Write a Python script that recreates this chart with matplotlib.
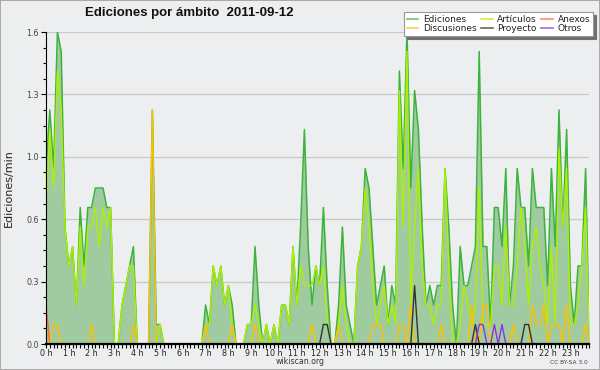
import matplotlib
matplotlib.use('Agg')
import matplotlib.pyplot as plt
from matplotlib.lines import Line2D
from matplotlib.ticker import FixedLocator, MultipleLocator, FormatStrFormatter
import numpy as np

# edits per minute, one value every 10 minutes (144 per day)
ediciones = [0.9, 1.2, 0.9, 1.6, 1.5, 0.6, 0.4, 0.5, 0.2, 0.7, 0.4, 0.7,
             0.7, 0.8, 0.8, 0.8, 0.7, 0.7, 0, 0, 0.2, 0.3, 0.4, 0.5,
             0, 0, 0, 0, 1.2, 0.1, 0.1, 0, 0, 0, 0, 0,
             0, 0, 0, 0, 0, 0, 0.2, 0.1, 0.4, 0.3, 0.4, 0.2,
             0.3, 0.2, 0, 0, 0, 0.1, 0.1, 0.5, 0.2, 0, 0.1, 0,
             0.1, 0, 0.2, 0.2, 0.1, 0.5, 0.2, 0.6, 1.1, 0.5, 0.2, 0.4,
             0.3, 0.7, 0.3, 0, 0, 0.2, 0.6, 0.2, 0.1, 0, 0.4, 0.5,
             0.9, 0.8, 0.5, 0.2, 0.3, 0.4, 0.1, 0.3, 0.2, 1.4, 0.9, 1.6,
             0.8, 1.3, 1.1, 0.6, 0.2, 0.3, 0.2, 0.3, 0.3, 0.9, 0.6, 0.2,
             0, 0.5, 0.3, 0.3, 0.4, 0.5, 1.5, 0.5, 0.5, 0.1, 0.7, 0.7,
             0.5, 0.9, 0.2, 0.4, 0.9, 0.7, 0.7, 0.4, 0.9, 0.7, 0.7, 0.7,
             0.3, 0.9, 0.5, 1.2, 0.6, 1.1, 0.3, 0.1, 0.4, 0.4, 0.9, 0]

articulos = [0.7, 1.1, 0.8, 1.4, 1.2, 0.6, 0.4, 0.5, 0.2, 0.6, 0.3, 0.6,
             0.6, 0.7, 0.5, 0.7, 0.6, 0.7, 0, 0, 0.2, 0.3, 0.4, 0.4,
             0, 0, 0, 0, 0, 0, 0.1, 0, 0, 0, 0, 0,
             0, 0, 0, 0, 0, 0, 0.1, 0.1, 0.4, 0.3, 0.4, 0.2,
             0.3, 0.1, 0, 0, 0, 0.1, 0.1, 0.2, 0.1, 0, 0.1, 0,
             0.1, 0, 0.2, 0.2, 0.1, 0.5, 0.2, 0.4, 0.3, 0.3, 0.3, 0.4,
             0.3, 0.4, 0.1, 0, 0, 0.1, 0.3, 0.1, 0, 0, 0.4, 0.5,
             0.8, 0.6, 0.3, 0.1, 0.2, 0.3, 0.1, 0.2, 0.1, 1.3, 0.6, 1.5,
             0.2, 0.6, 0.9, 0.4, 0.2, 0.2, 0.1, 0.2, 0.2, 0.9, 0.4, 0,
             0, 0.1, 0.3, 0.2, 0.1, 0.2, 0.8, 0.1, 0.1, 0.1, 0.4, 0.4,
             0.2, 0.6, 0.2, 0.2, 0.4, 0.7, 0.5, 0.2, 0.5, 0.6, 0.4, 0.3,
             0.1, 0.5, 0.1, 1.0, 0.6, 0.9, 0.1, 0.1, 0.2, 0.4, 0.7, 0]

discusiones = [0, 0, 0.1, 0.1, 0, 0, 0, 0, 0, 0, 0, 0,
               0.1, 0, 0, 0, 0, 0, 0, 0, 0, 0, 0, 0.1,
               0, 0, 0, 0, 1.2, 0, 0, 0, 0, 0, 0, 0,
               0, 0, 0, 0, 0, 0, 0.1, 0, 0, 0, 0, 0,
               0, 0.1, 0, 0, 0, 0, 0, 0.1, 0, 0, 0, 0,
               0, 0, 0, 0, 0, 0, 0, 0, 0, 0, 0.1, 0,
               0, 0, 0, 0, 0, 0.1, 0, 0, 0, 0, 0, 0,
               0, 0, 0.1, 0.1, 0.1, 0, 0, 0, 0, 0.1, 0.1, 0,
               0.2, 0, 0, 0, 0, 0, 0, 0, 0.1, 0, 0, 0,
               0, 0, 0, 0, 0.2, 0, 0, 0.2, 0.2, 0, 0.1, 0,
               0, 0, 0, 0.1, 0, 0, 0, 0, 0.2, 0.1, 0.1, 0.2,
               0, 0.1, 0.1, 0.1, 0, 0.2, 0, 0, 0, 0, 0.1, 0]

anexos = [0.2, 0, 0, 0, 0, 0, 0, 0, 0, 0, 0, 0,
          0, 0, 0, 0, 0, 0, 0, 0, 0, 0, 0, 0,
          0, 0, 0, 0, 0, 0, 0, 0, 0, 0, 0, 0,
          0, 0, 0, 0, 0, 0, 0, 0, 0, 0, 0, 0,
          0, 0, 0, 0, 0, 0, 0, 0, 0, 0, 0, 0,
          0, 0, 0, 0, 0, 0, 0, 0, 0, 0, 0, 0,
          0, 0, 0, 0, 0, 0, 0, 0, 0, 0, 0, 0,
          0, 0, 0, 0, 0, 0, 0, 0, 0, 0, 0, 0,
          0, 0, 0, 0, 0, 0, 0, 0, 0, 0, 0, 0,
          0, 0, 0, 0, 0, 0, 0, 0, 0, 0, 0, 0,
          0, 0, 0, 0, 0, 0, 0, 0, 0, 0, 0, 0,
          0, 0, 0, 0, 0, 0, 0, 0, 0, 0, 0, 0]

proyecto = [0, 0, 0, 0, 0, 0, 0, 0, 0, 0, 0, 0,
            0, 0, 0, 0, 0, 0, 0, 0, 0, 0, 0, 0,
            0, 0, 0, 0, 0, 0, 0, 0, 0, 0, 0, 0,
            0, 0, 0, 0, 0, 0, 0, 0, 0, 0, 0, 0,
            0, 0, 0, 0, 0, 0, 0, 0, 0, 0, 0, 0,
            0, 0, 0, 0, 0, 0, 0, 0, 0, 0, 0, 0,
            0, 0.1, 0.1, 0, 0, 0, 0, 0, 0, 0, 0, 0,
            0, 0, 0, 0, 0, 0, 0, 0, 0, 0, 0, 0,
            0, 0.3, 0, 0, 0, 0, 0, 0, 0, 0, 0, 0,
            0, 0, 0, 0, 0, 0.1, 0, 0, 0, 0, 0, 0,
            0, 0, 0, 0, 0, 0, 0.1, 0.1, 0, 0, 0, 0,
            0, 0, 0, 0, 0, 0, 0, 0, 0, 0, 0, 0]

otros = [0, 0, 0, 0, 0, 0, 0, 0, 0, 0, 0, 0,
         0, 0, 0, 0, 0, 0, 0, 0, 0, 0, 0, 0,
         0, 0, 0, 0, 0, 0, 0, 0, 0, 0, 0, 0,
         0, 0, 0, 0, 0, 0, 0, 0, 0, 0, 0, 0,
         0, 0, 0, 0, 0, 0, 0, 0, 0, 0, 0, 0,
         0, 0, 0, 0, 0, 0, 0, 0, 0, 0, 0, 0,
         0, 0, 0, 0, 0, 0, 0, 0, 0, 0, 0, 0,
         0, 0, 0, 0, 0, 0, 0, 0, 0, 0, 0, 0,
         0, 0, 0, 0, 0, 0, 0, 0, 0, 0, 0, 0,
         0, 0, 0, 0, 0, 0, 0.1, 0.1, 0, 0, 0.1, 0,
         0.1, 0, 0, 0, 0, 0, 0, 0, 0, 0, 0, 0,
         0, 0, 0, 0, 0, 0, 0, 0, 0, 0, 0, 0]

hours = [f"{h} h" for h in range(24)]
titulo = "Ediciones por ámbito  2011-09-12"

bg = '#edeef0'
c_edic = '#3cb43c'
c_fill = '#a0cba0'
c_art = '#aef000'
c_anex = '#ff6633'
c_disc = '#ffc000'
c_proy = '#333333'
c_otros = '#8833ee'

fig = plt.figure(figsize=(6, 3.7), dpi=100, facecolor=bg,
                 edgecolor='#aaaaaa', linewidth=1.2)
ax = fig.add_axes([46 / 600, 26 / 370, 543.4 / 600, 312 / 370])
ax.set_facecolor(bg)

x = np.arange(len(ediciones))
ax.fill_between(x, ediciones, color=c_fill, lw=0, zorder=1)
ax.plot(x, ediciones, color=c_edic, lw=1.1, zorder=2)
ax.plot(x, articulos, color=c_art, lw=1.0, zorder=2.1)
ax.plot(x, anexos, color=c_anex, lw=1.0, zorder=2.2)
ax.plot(x, discusiones, color=c_disc, lw=1.0, zorder=2.3)
ax.plot(x, proyecto, color=c_proy, lw=1.0, zorder=2.4)
ax.plot(x, otros, color=c_otros, lw=1.0, zorder=2.5)

ax.set_xlim(0, 143)
ax.set_ylim(0, 1.6)

ax.xaxis.set_major_locator(FixedLocator(np.arange(0, 144, 6)))
ax.set_xticklabels(hours)
ax.xaxis.set_minor_locator(MultipleLocator(1))
ax.yaxis.set_major_locator(FixedLocator([0, 0.32, 0.64, 0.96, 1.28, 1.6]))
ax.yaxis.set_major_formatter(FormatStrFormatter('%.1f'))
ax.yaxis.set_minor_locator(MultipleLocator(0.08))

ax.tick_params(axis='x', which='both', length=3, width=0.8, pad=0.5,
               labelsize=5.8, labelcolor='#222222')
ax.tick_params(axis='y', which='major', length=3.5, width=0.8, pad=1.5,
               labelsize=5.8, labelcolor='#444444')
ax.tick_params(axis='y', which='minor', length=2, width=0.8)

ax.yaxis.grid(True, color='#c8c8c8', lw=0.9)
ax.set_axisbelow(True)
for s in ['top', 'right']:
    ax.spines[s].set_visible(False)
ax.spines['left'].set_linewidth(0.8)
ax.spines['bottom'].set_linewidth(1.6)
ax.spines['bottom'].set_zorder(5)

fig.text(85 / 600, 1 - 13 / 370, titulo, ha='left', va='center',
         fontsize=9.5, fontweight='bold', family='Liberation Sans', color='#111111')
fig.text(9 / 600, 1 - 188 / 370, 'Ediciones/min', rotation=90,
         ha='center', va='center', fontsize=8, color='#222222')
fig.text(0.5, 1 - 361 / 370, 'wikiscan.org', ha='center', va='center',
         fontsize=5.6, color='#333333')
fig.text(588 / 600, 1 - 362 / 370, 'CC BY-SA 3.0', ha='right', va='center',
         fontsize=4.2, color='#444444')

# legend swatches look a bit paler than the plotted lines
handles = [Line2D([], [], color=c, lw=1.2, alpha=0.75)
           for c in [c_edic, c_disc, c_art, c_proy, c_anex, c_otros]]
labels = ['Ediciones', 'Discusiones', 'Artículos', 'Proyecto', 'Anexos', 'Otros']
leg = fig.legend(handles, labels, ncol=3, loc='upper right',
                 bbox_to_anchor=(593 / 600, 1 - 12 / 370), fontsize=6.5,
                 frameon=True, fancybox=False, edgecolor='#999999',
                 facecolor='white', framealpha=1,
                 shadow={'color': '#707070', 'alpha': 1},
                 handlelength=1.3, handletextpad=0.5, columnspacing=0.5,
                 labelspacing=0.05, borderpad=0.3, borderaxespad=0)
leg.get_frame().set_linewidth(0.8)
for t in leg.get_texts():
    t.set_color('#222222')

fig.savefig('out.png', dpi=100, facecolor=bg)
